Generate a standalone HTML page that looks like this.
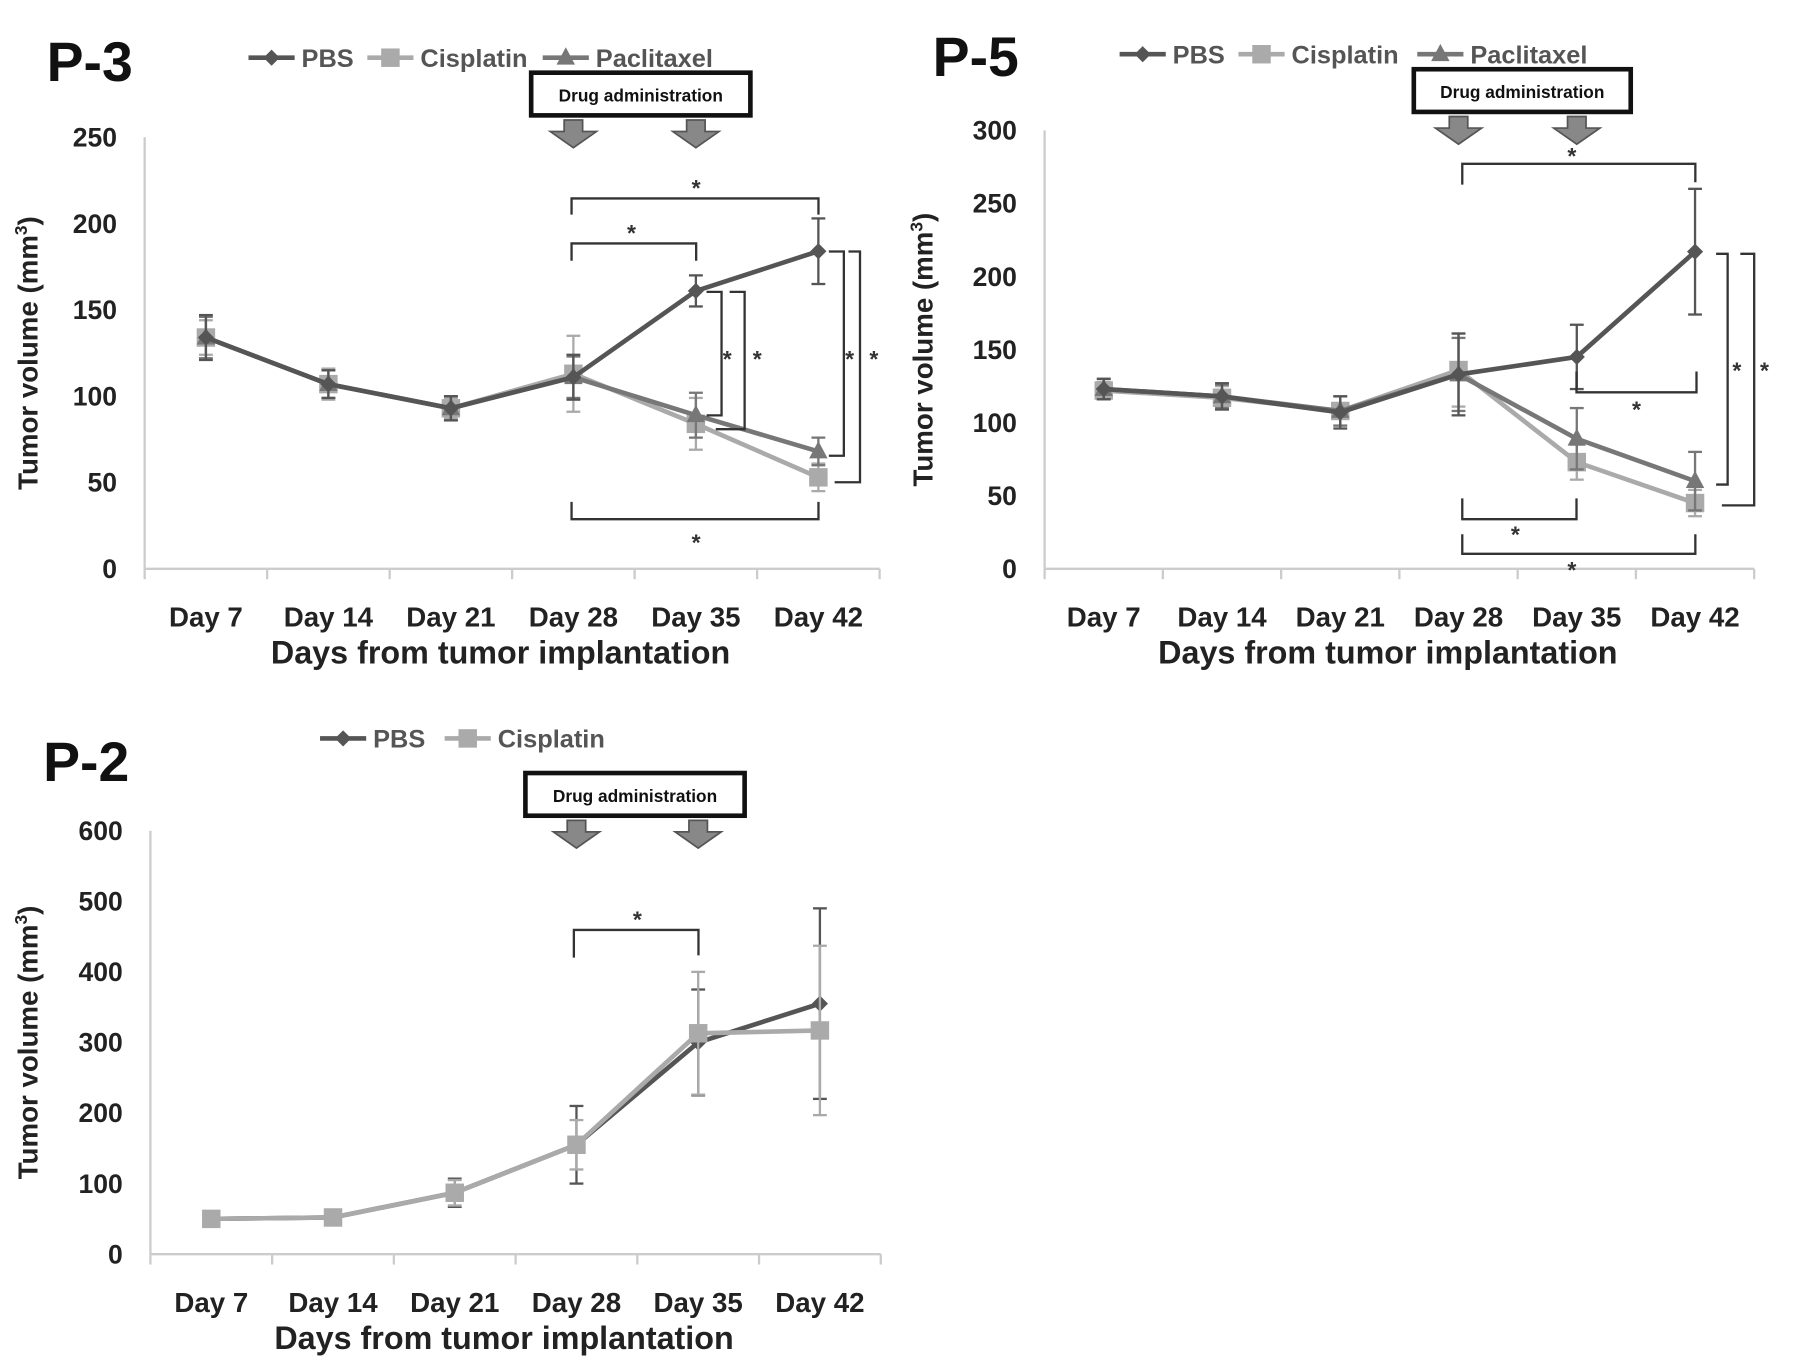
<!DOCTYPE html>
<html><head><meta charset="utf-8"><style>
html,body{margin:0;padding:0;background:#fff;}
svg{display:block;}
text{font-family:"Liberation Sans",sans-serif;font-weight:bold;}
</style></head><body>
<svg id="fig" width="1795" height="1358" viewBox="0 0 1555 1177" xmlns="http://www.w3.org/2000/svg"></svg>
<script>
const categories = ["Day 7","Day 14","Day 21","Day 28","Day 35","Day 42"];
const p3Ticks = [0,50,100,150,200,250];
const p3PBS = [134,107,93,111,161,184];
const p3PBSErr = [13,8,7,13,9,19];
const p3Cis = [134,107,93,113,84,53];
const p3CisErr = [10,9,6,22,15,8];
const p3Pac = [134,107,93,111,89,68];
const p3PacErr = [12,8,7,12,13,8];
const p5Ticks = [0,50,100,150,200,250,300];
const p5PBS = [123,118,107,133,145,217];
const p5PBSErr = [7,9,11,28,22,43];
const p5Cis = [122,117,108,136,73,45];
const p5CisErr = [6,8,10,25,12,9];
const p5Pac = [123,118,108,133,89,60];
const p5PacErr = [7,8,10,25,21,20];
const p2Ticks = [0,100,200,300,400,500,600];
const p2PBS = [50,52,87,155,300,355];
const p2PBSErr = [3,3,20,55,75,135];
const p2Cis = [50,52,87,155,313,317];
const p2CisErr = [3,3,18,35,87,120];

const NS="http://www.w3.org/2000/svg";
const svg=document.getElementById('fig');
function el(tag,attrs,parent,txt){const e=document.createElementNS(NS,tag);for(const k in attrs)e.setAttribute(k,attrs[k]);if(txt!==undefined)e.textContent=txt;(parent||svg).appendChild(e);return e;}
const COL={pbs:"#555",cis:"#aaa",pac:"#777"};

function marker(g,type,x,y,c){
  let m;
  if(type==='d') m=el('polygon',{points:`${x},${y-7} ${x+7},${y} ${x},${y+7} ${x-7},${y}`,fill:c},g);
  else if(type==='s') m=el('rect',{x:x-8,y:y-8,width:16,height:16,fill:c},g);
  else m=el('polygon',{points:`${x},${y-9} ${x+8},${y+6} ${x-8},${y+6}`,fill:c},g);
  
  
}

function panel(cfg){
  const g=el('g',{});
  
  
  const x0=cfg.x0,x1=cfg.x1,yb=cfg.yb,yt=cfg.yt,max=cfg.ticks[cfg.ticks.length-1];
  const sy=v=>yb-(v/max)*(yb-yt);
  const sw=(x1-x0)/categories.length;
  const sx=i=>x0+sw*(i+0.5);
  // axes
  const ya=el('line',{x1:x0,y1:yt,x2:x0,y2:yb,stroke:"#ccc","stroke-width":2},g);
  
  const xa=el('line',{x1:x0,y1:yb,x2:x1,y2:yb,stroke:"#ccc","stroke-width":2},g);
  
  for(let i=0;i<=categories.length;i++){el('line',{x1:x0+sw*i,y1:yb,x2:x0+sw*i,y2:yb+9,stroke:"#ccc","stroke-width":2},g);}
  cfg.ticks.forEach(t=>{const tl=el('text',{x:x0-24,y:sy(t)+8,"text-anchor":"end","font-size":23,fill:"#222"},g,String(t));
    });
  categories.forEach((c,i)=>{const tl=el('text',{x:sx(i),y:yb+50,"text-anchor":"middle","font-size":24,fill:"#222"},g,c);
    });
  const xt=el('text',{x:(x0+x1)/2-10,y:yb+82,"text-anchor":"middle","font-size":28,fill:"#222"},g,"Days from tumor implantation");
  
  const yc=(yt+yb)/2;
  const yti=el('text',{x:cfg.ytx,y:yc,"text-anchor":"middle","font-size":24,fill:"#222",transform:`rotate(-90 ${cfg.ytx} ${yc})`},g);
  
  yti.innerHTML='Tumor volume (mm<tspan dy="-9" font-size="15">3</tspan><tspan dy="9">)</tspan>';
  // series
  cfg.series.forEach(s=>{
    const sg=el('g',{},g);
    
    s.vals.forEach((v,i)=>{const e=s.err[i];
      el('line',{x1:sx(i),y1:sy(v-e),x2:sx(i),y2:sy(v+e),stroke:s.c,"stroke-width":2},sg);
      el('line',{x1:sx(i)-6,y1:sy(v+e),x2:sx(i)+6,y2:sy(v+e),stroke:s.c,"stroke-width":2},sg);
      el('line',{x1:sx(i)-6,y1:sy(v-e),x2:sx(i)+6,y2:sy(v-e),stroke:s.c,"stroke-width":2},sg);});
    const ln=el('polyline',{points:s.vals.map((v,i)=>sx(i)+','+sy(v)).join(' '),fill:"none",stroke:s.c,"stroke-width":4},sg);
    
    s.vals.forEach((v,i)=>marker(sg,s.m,sx(i),sy(v),s.c));
  });
  // title
  const tt=el('text',{x:cfg.tx,y:cfg.ty,"font-size":48,fill:"#111"},g,cfg.title);
  
  // legend
  cfg.legend.forEach(l=>{const lg=el('g',{},g);
    
    el('line',{x1:l.x,y1:cfg.ly,x2:l.x+40,y2:cfg.ly,stroke:l.c,"stroke-width":4},lg);
    marker(lg,l.m,l.x+20,cfg.ly,l.c);
    el('text',{x:l.x+46,y:cfg.ly+8,"font-size":22,fill:"#555"},lg,l.t);});
  // drug box
  const db=el('g',{},g);
  el('rect',{x:cfg.bx,y:cfg.by,width:cfg.bw,height:37,fill:"#fff",stroke:"#111","stroke-width":4},db);
  el('text',{x:cfg.bx+cfg.bw/2,y:cfg.by+25,"text-anchor":"middle","font-size":15,fill:"#111"},db,"Drug administration");
  [3,4].forEach(i=>{const ax=sx(i),ay=cfg.by+41;
    const a=el('polygon',{points:`${ax-8},${ay} ${ax+8},${ay} ${ax+8},${ay+10} ${ax+20},${ay+10} ${ax},${ay+24} ${ax-20},${ay+10} ${ax-8},${ay+10}`,fill:"#888",stroke:"#555","stroke-width":1.5},db);
    });
  // brackets
  cfg.br.forEach(b=>{const bg=el('g',{},g);
    
    el('polyline',{points:b.p,fill:"none",stroke:"#333","stroke-width":2},bg);
    el('text',{x:b.sx,y:b.sy,"text-anchor":"middle","font-size":20,"font-weight":"normal",fill:"#333"},bg,"*");});
}

panel({name:'panel-p3',title:'P-3',tx:40,ty:70,x0:125,x1:762,yb:493,yt:119,ticks:p3Ticks,ytx:32,ly:50,
  series:[{key:'cisplatin',vals:p3Cis,err:p3CisErr,c:COL.cis,m:'s'},{key:'paclitaxel',vals:p3Pac,err:p3PacErr,c:COL.pac,m:'t'},{key:'pbs',vals:p3PBS,err:p3PBSErr,c:COL.pbs,m:'d'}],
  legend:[{x:215,t:'PBS',c:COL.pbs,m:'d'},{x:318,t:'Cisplatin',c:COL.cis,m:'s'},{x:470,t:'Paclitaxel',c:COL.pac,m:'t'}],
  bx:460,by:63,bw:190,
  br:[{p:"495,186 495,172 709,172 709,186",sx:603,sy:170},{p:"495,226 495,211 603,211 603,226",sx:547,sy:209},
      {p:"495,435 495,450 709,450 709,435",sx:603,sy:477},{p:"612,253 625,253 625,360 612,360",sx:630,sy:318},
      {p:"632,253 645,253 645,372 620,372",sx:656,sy:318},{p:"718,218 731,218 731,395 718,395",sx:736,sy:318},
      {p:"735,218 745,218 745,418 723,418",sx:757,sy:318}]});

panel({name:'panel-p5',title:'P-5',tx:808,ty:66,x0:905,x1:1520,yb:493,yt:113,ticks:p5Ticks,ytx:808,ly:47,
  series:[{key:'cisplatin',vals:p5Cis,err:p5CisErr,c:COL.cis,m:'s'},{key:'paclitaxel',vals:p5Pac,err:p5PacErr,c:COL.pac,m:'t'},{key:'pbs',vals:p5PBS,err:p5PBSErr,c:COL.pbs,m:'d'}],
  legend:[{x:970,t:'PBS',c:COL.pbs,m:'d'},{x:1073,t:'Cisplatin',c:COL.cis,m:'s'},{x:1228,t:'Paclitaxel',c:COL.pac,m:'t'}],
  bx:1225,by:60,bw:188,
  br:[{p:"1267,160 1267,142 1469,142 1469,158",sx:1362,sy:142},{p:"1366,322 1366,340 1470,340 1470,322",sx:1418,sy:362},
      {p:"1267,432 1267,450 1366,450 1366,432",sx:1313,sy:470},{p:"1267,463 1267,480 1469,480 1469,463",sx:1362,sy:501},
      {p:"1487,220 1497,220 1497,420 1487,420",sx:1505,sy:328},{p:"1508,220 1520,220 1520,438 1492,438",sx:1529,sy:328}]});

panel({name:'panel-p2',title:'P-2',tx:37,ty:677,x0:130,x1:763,yb:1087,yt:720,ticks:p2Ticks,ytx:32,ly:640,
  series:[{key:'pbs',vals:p2PBS,err:p2PBSErr,c:COL.pbs,m:'d'},{key:'cisplatin',vals:p2Cis,err:p2CisErr,c:COL.cis,m:'s'}],
  legend:[{x:277,t:'PBS',c:COL.pbs,m:'d'},{x:385,t:'Cisplatin',c:COL.cis,m:'s'}],
  bx:455,by:670,bw:190,
  br:[{p:"497,830 497,806 605,806 605,828",sx:552,sy:804}]});
</script>
</body></html>
